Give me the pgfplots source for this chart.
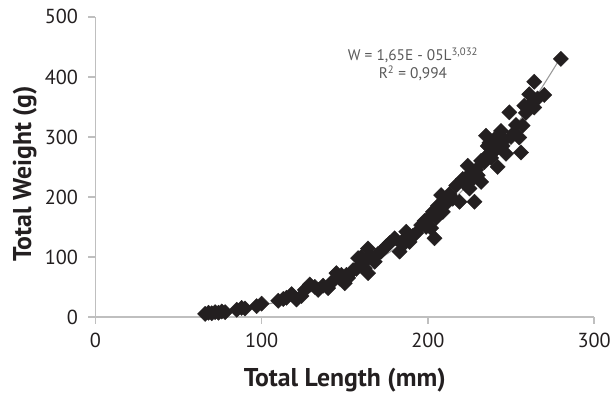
\documentclass[border=0pt]{standalone}
\usepackage{fontspec}
\setmainfont{PT Sans}
\usepackage{pgfplots}
\pgfplotsset{compat=1.18}
\definecolor{markc}{HTML}{231F20}
\definecolor{axisg}{HTML}{BFBFBF}
\definecolor{trend}{HTML}{9A9A9A}
\definecolor{eqc}{HTML}{595959}
\begin{document}
\begin{tikzpicture}
\begin{axis}[
  scale only axis,
  width=502bp, height=302bp,
  xmin=0, xmax=300, ymin=0, ymax=500,
  axis lines*=left,
  axis line style={draw=axisg, line width=1.6bp},
  every tick/.style={draw=axisg, line width=1.4bp},
  tick align=outside,
  major tick length=7bp,
  xtick={0,100,200,300},
  ytick={0,100,200,300,400,500},
  /pgf/number format/assume math mode=true,
  ticklabel style={font=\fontsize{20.5}{24}\selectfont, text=markc},
  yticklabel style={xshift=-7bp},
  xticklabel style={yshift=-6bp},
  xlabel={Total Length (mm)},
  ylabel={Total Weight (g)},
  label style={font=\fontsize{26}{30}\selectfont\bfseries, text=markc},
  xlabel style={at={(axis description cs:0.5,-0.212)}, anchor=center},
  ylabel style={at={(axis description cs:-0.1414,0.477)}, anchor=center, rotate=0},
  clip=false,
]
\addplot[only marks, mark=square*, mark size=5.4bp, mark options={rotate=45, fill=markc, draw=markc}] coordinates {
(66,5) (68,7) (70,6) (72,8) (74,7) (76,9) (78,8)
(85,12) (88,15) (90,14) (97,18) (100,22)
(110,27) (113,30) (115,32) (118,38) (121,29) (124,35) (126,45) (129,54) (132,50) (134,45) (137,52) (140,48)
(143,60) (145,73) (147,64) (148,70) (150,56) (151,70) (152,65) (155,78) (157,80) (158,98)
(160,85) (160,100) (162,81) (163,95) (164,114) (164,73) (166,100) (168,92) (170,105) (172,109)
(175,118) (177,123) (180,131) (183,109) (185,120) (186,130) (187,142) (189,125) (191,135) (193,140)
(196,153) (198,160) (199,150) (200,164) (202,148) (203,175) (204,131) (205,165) (206,185) (208,203)
(209,175) (210,186) (211,195) (213,205) (215,197) (217,219) (219,192) (221,230) (223,220) (224,252)
(225,214) (226,240) (227,230) (228,192) (229,245) (230,236) (232,225) (232,260) (234,258) (235,302)
(236,285) (236,270) (237,290) (238,265) (239,274) (240,296) (241,280) (242,250) (243,300) (244,310) (245,285)
(246,295) (247,272) (249,341) (250,300) (252,307) (253,320) (255,299) (256,274) (257,319) (258,352)
(259,340) (261,371) (262,355) (264,349) (264,392) (266,364) (270,370) (280,430)
};
\addplot[trend, line width=1.1bp, smooth] coordinates {
(65,5.18) (70,6.48) (80,9.72) (90,13.89) (100,19.12) (110,25.53) (120,33.2)
(130,42.36) (140,53.0) (150,65.37) (160,79.5) (170,95.55) (180,113.6)
(190,133.85) (200,156.3) (210,181.3) (220,208.7) (230,238.9) (240,271.7)
(250,307.7) (260,346.5) (270,388.5) (280,433)
};
\node[align=center, text=eqc, font=\fontsize{15.5}{18}\selectfont, anchor=center] at (axis cs:191,421)
  {W = 1,65E - 05L\textsuperscript{3,032}\\R\textsuperscript{2} = 0,994};
\end{axis}
\path[use as bounding box] (-96bp,-76bp) rectangle (518bp,319bp);
\end{tikzpicture}
\end{document}
